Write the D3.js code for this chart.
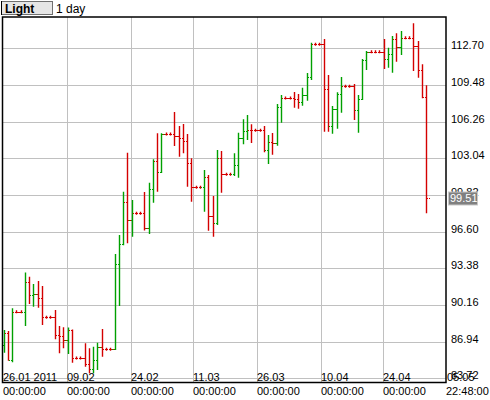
<!DOCTYPE html>
<html>
<head>
<meta charset="utf-8">
<script src="https://cdn.jsdelivr.net/npm/d3@7"></script>
<style>
  body { margin: 0; background: #fff; }
  #chart { width: 490px; height: 400px; }
  text { font-family: "Liberation Sans", Arial, sans-serif; }
</style>
</head>
<body>
<div id="chart"></div>
<script>
// daily bars, oldest first
var opens = [86.65, 87.67, 85.33, 89.57, 89.57, 89.57, 92.15, 91.04, 91.12, 90.75,
  89.08, 89.08, 89.08, 87.50, 87.47, 87.09, 87.96, 85.50, 85.50, 85.50,
  84.98, 84.54, 85.33, 86.50, 86.27, 86.27, 86.27, 93.73, 95.49, 99.20,
  97.62, 98.21, 98.21, 98.21, 96.88, 100.32, 102.80, 101.81, 105.17, 105.17,
  105.17, 105.00, 104.80, 104.53, 102.60, 100.49, 100.49, 100.49, 101.37, 97.97,
  97.33, 103.04, 101.64, 101.64, 101.64, 102.45, 104.80, 105.41, 105.53, 105.50,
  105.50, 105.50, 103.77, 104.50, 104.36, 107.52, 108.34, 108.34, 108.34, 108.22,
  107.96, 108.57, 110.15, 113.05, 113.05, 113.05, 109.10, 105.85, 107.34, 108.66,
  109.36, 109.36, 109.36, 107.26, 108.22, 111.67, 112.40, 112.40, 112.40, 112.40,
  111.73, 112.17, 113.49, 112.79, 113.63, 113.63, 113.63, 112.93, 110.77, 108.40];
var highs = [87.96, 87.88, 89.87, 89.57, 89.57, 93.00, 92.64, 92.00, 92.27, 91.83,
  89.08, 89.08, 89.72, 88.31, 88.20, 88.17, 88.00, 85.50, 85.50, 86.80,
  86.36, 86.50, 86.85, 88.05, 86.27, 86.27, 94.64, 96.31, 100.11, 103.53,
  99.38, 98.21, 98.21, 100.08, 100.90, 102.95, 105.24, 105.24, 105.17, 105.17,
  107.11, 105.88, 106.05, 105.17, 103.04, 100.49, 100.49, 102.01, 101.57, 99.73,
  103.77, 103.68, 101.64, 101.64, 103.48, 105.29, 106.47, 106.84, 106.03, 105.50,
  105.50, 105.88, 105.09, 105.26, 107.81, 108.60, 108.34, 108.34, 108.86, 108.69,
  109.24, 110.53, 113.19, 113.05, 113.05, 113.52, 110.36, 107.63, 108.84, 110.18,
  109.36, 109.36, 109.57, 108.60, 111.76, 112.46, 112.40, 112.40, 112.40, 113.52,
  112.75, 113.78, 114.02, 114.22, 113.63, 113.63, 114.90, 113.34, 111.30, 109.45];
var lows = [85.97, 85.27, 85.13, 89.57, 89.57, 88.31, 90.25, 90.01, 89.92, 88.40,
  89.08, 89.08, 87.15, 85.92, 86.36, 85.86, 85.09, 85.50, 85.50, 84.74,
  84.16, 84.16, 84.45, 85.62, 86.27, 86.27, 86.21, 90.07, 95.40, 95.58,
  96.16, 98.21, 98.21, 96.70, 96.39, 99.14, 100.11, 101.75, 105.17, 105.17,
  104.12, 103.18, 103.48, 100.55, 99.23, 100.49, 100.49, 98.35, 96.68, 96.16,
  97.18, 100.02, 101.64, 101.64, 101.49, 101.34, 104.27, 104.65, 104.38, 105.50,
  105.50, 103.57, 102.54, 103.36, 104.15, 106.17, 108.34, 108.34, 107.48, 107.40,
  107.66, 108.10, 109.92, 113.05, 113.05, 105.38, 105.38, 105.20, 105.64, 107.05,
  109.36, 109.36, 106.40, 105.29, 108.15, 110.79, 112.40, 112.40, 112.40, 110.88,
  111.00, 110.56, 111.52, 112.11, 113.63, 113.63, 110.71, 110.12, 108.31, 98.21];
var closes = [87.67, 85.33, 89.57, 89.57, 89.57, 92.15, 91.04, 91.12, 90.75, 89.08,
  89.08, 89.08, 87.50, 87.47, 87.09, 87.96, 85.50, 85.50, 85.50, 84.98,
  84.54, 85.33, 86.50, 86.27, 86.27, 86.27, 93.73, 95.49, 99.20, 97.62,
  98.21, 98.21, 98.21, 96.88, 100.32, 102.80, 101.81, 105.17, 105.17, 105.17,
  105.00, 104.80, 104.53, 102.60, 100.49, 100.49, 100.49, 101.37, 97.97, 97.33,
  103.04, 101.64, 101.64, 101.64, 102.45, 104.80, 105.41, 105.53, 105.50, 105.50,
  105.50, 103.77, 104.50, 104.36, 107.52, 108.34, 108.34, 108.34, 108.22, 107.96,
  108.57, 110.15, 113.05, 113.05, 113.05, 109.10, 105.85, 107.34, 108.66, 109.36,
  109.36, 109.36, 107.26, 108.22, 111.67, 112.40, 112.40, 112.40, 112.40, 111.73,
  112.17, 113.49, 112.79, 113.63, 113.63, 113.63, 112.93, 110.77, 108.40, 99.51];

var priceTicks = ["112.70", "109.48", "106.26", "103.04", "99.82", "96.60", "93.38", "90.16", "86.94", "83.72"];
var dateLabels = ["26.01 2011", "09.02", "24.02", "11.03", "26.03", "10.04", "24.04"];
var dateBars = [-0.1, 14.9, 29.75, 44.45, 59.45, 74.3, 88.95];
var lastDate = "05.05";
var lastTime = "22:48:00";
var lastPrice = "99.51";

var width = 490, height = 400;
var plotL = 2.5, plotR = 446, plotT = 17, plotB = 382.5;

var svg = d3.select("#chart").append("svg")
  .attr("width", width)
  .attr("height", height);

var x = d3.scaleLinear().domain([0, opens.length - 1]).range([3.5, 426.2]);
var y = d3.scaleLinear().domain([83.35, 115.45]).range([plotB, plotT]);

// grid
priceTicks.forEach(function(t) {
  var yy = Math.round(y(+t)) + 0.5;
  svg.append("line")
    .attr("x1", plotL).attr("x2", plotR)
    .attr("y1", yy).attr("y2", yy)
    .style("stroke", "#c0c0c0").style("stroke-width", 1);
});
dateBars.forEach(function(b, i) {
  if (i == 0) return;
  var xx = Math.round(x(b)) + 0.5;
  svg.append("line")
    .attr("x1", xx).attr("x2", xx)
    .attr("y1", plotT).attr("y2", plotB)
    .style("stroke", "#c0c0c0").style("stroke-width", 1);
});

svg.append("clipPath").attr("id", "plot")
  .append("rect").attr("x", plotL).attr("y", plotT)
  .attr("width", plotR - plotL).attr("height", plotB - plotT);

var bars = svg.append("g").attr("clip-path", "url(#plot)");

for (var i = 0; i < opens.length; i++) {
  var xi = Math.round(x(i)) + 0.5;
  var col = closes[i] > opens[i] ? "#00a000" : "#d40000";
  var yh = y(highs[i]), yl = y(lows[i]);
  if (yl - yh < 3) { var mid = (yh + yl) / 2; yh = mid - 1.5; yl = mid + 1.5; }
  var yo = Math.round(y(opens[i])) + 0.5, yc = Math.round(y(closes[i])) + 0.5;
  bars.append("line")
    .attr("x1", xi).attr("x2", xi).attr("y1", yh).attr("y2", yl)
    .style("stroke", col).style("stroke-width", 1.4);
  // dotted ticks: open on the left, close on the right
  bars.append("line")
    .attr("x1", xi - 0.5).attr("x2", xi - 3.5).attr("y1", yo).attr("y2", yo)
    .style("stroke", col).style("stroke-width", 1.4)
    .style("stroke-dasharray", "1,1").style("shape-rendering", "crispEdges");
  bars.append("line")
    .attr("x1", xi + 0.5).attr("x2", xi + 3.5).attr("y1", yc).attr("y2", yc)
    .style("stroke", col).style("stroke-width", 1.4)
    .style("stroke-dasharray", "1,1").style("shape-rendering", "crispEdges");
}

// date labels inside the plot, times under it
dateLabels.forEach(function(d, i) {
  var xx = Math.max(3, Math.round(x(dateBars[i])));
  svg.append("text").attr("x", xx).attr("y", 380.5)
    .style("font-size", "11px").text(d);
  svg.append("text").attr("x", xx).attr("y", 395)
    .style("font-size", "11px").text("00:00:00");
});

// frame
svg.append("rect")
  .attr("x", plotL).attr("y", plotT)
  .attr("width", plotR - plotL).attr("height", plotB - plotT)
  .style("fill", "none").style("stroke", "#000").style("stroke-width", 1.5);

// price labels
priceTicks.forEach(function(t) {
  svg.append("text").attr("x", 451).attr("y", Math.round(y(+t)) + 0.5)
    .style("font-size", "11px").text(t);
});
svg.append("text").attr("x", 447).attr("y", 380.5)
  .style("font-size", "11px").text(lastDate);
svg.append("text").attr("x", 446).attr("y", 395)
  .style("font-size", "11px").text(lastTime);

// last price marker
var ly = y(+lastPrice);
svg.append("rect")
  .attr("x", 448.5).attr("y", ly - 6.5)
  .attr("width", 29).attr("height", 13)
  .style("fill", "#808080").style("stroke", "#c8c8c8").style("stroke-width", 1);
svg.append("text").attr("x", 450).attr("y", ly + 4)
  .style("font-size", "11px").style("fill", "#fff").text(lastPrice);

// header
svg.append("rect")
  .attr("x", 1.5).attr("y", 1.5).attr("width", 51).attr("height", 13)
  .style("fill", "#e6e6e6").style("stroke", "#707070").style("stroke-width", 1);
svg.append("line").attr("x1", 1.5).attr("x2", 1.5).attr("y1", 1).attr("y2", 15)
  .style("stroke", "#000").style("stroke-width", 1);
svg.append("text").attr("x", 5).attr("y", 12.5)
  .style("font-size", "12px").style("font-weight", "bold").text("Light");
svg.append("text").attr("x", 56).attr("y", 12.5)
  .style("font-size", "12px").text("1 day");
</script>
</body>
</html>
